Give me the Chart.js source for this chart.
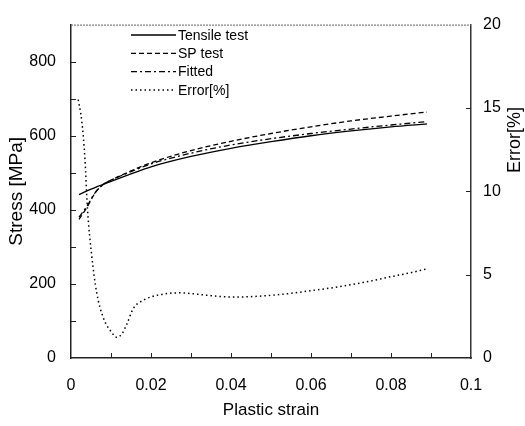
<!DOCTYPE html>
<html><head><meta charset="utf-8">
<script src="https://cdn.jsdelivr.net/npm/chart.js@4"></script>
<style>html,body{margin:0;padding:0;background:#fff}#wrap{width:525px;height:426px}</style>
</head><body><div id="wrap"><canvas id="c" width="525" height="426"></canvas></div>
<script>
const strain  = [0.002,0.004,0.006,0.008,0.01,0.015,0.02,0.03,0.04,0.05,0.06,0.07,0.08,0.089];
const tensile = [441,451,460,469,477,497,516,544,566,584,600,613,624,632];
const spTest  = [374,407,445,468,480,505,527,560,585,606,624,640,653,664];
const fitted  = [380,410,446,468,480,503,524,553,575,592,606,618,629,638];
const errStrain = [0.0018,0.0027,0.0035,0.0041,0.0052,0.0064,0.0081,0.0102,0.0114,0.0127,0.0139,0.0156,0.0181,0.0223,0.0273,0.0306,0.035,0.04,0.045,0.05,0.055,0.06,0.065,0.07,0.075,0.08,0.085,0.089];
const errVals   = [15.5,14.2,11.9,9.0,6.1,3.95,2.4,1.53,1.24,1.44,2.0,2.98,3.47,3.8,3.91,3.85,3.74,3.66,3.68,3.76,3.88,4.04,4.2,4.4,4.62,4.88,5.12,5.35];
const xTicks  = [0,0.02,0.04,0.06,0.08,0.1];
const yTicks  = [0,200,400,600,800];
const y2Ticks = [0,5,10,15,20];
const legendLabels = ['Tensile test','SP test','Fitted','Error[%]'];
const titles = {x:'Plastic strain', y:'Stress [MPa]', y2:'Error[%]'};

const pts = (xs, ys) => xs.map((x,i)=>({x:x,y:ys[i]}));
const FONT = 'Liberation Sans, Arial, sans-serif';

const deco = {
  id:'deco',
  afterDraw(chart){
    const ctx = chart.ctx, a = chart.chartArea;
    const x = chart.scales.x, y = chart.scales.y, y2 = chart.scales.y2;
    ctx.save();
    ctx.strokeStyle = '#222'; ctx.lineWidth = 1;
    ctx.beginPath();
    for (let v=0.01; v<0.0999; v+=0.01){ const px=Math.round(x.getPixelForValue(v))+0.5; ctx.moveTo(px,a.bottom); ctx.lineTo(px,a.bottom-5); }
    for (let v=100; v<900; v+=100){ const py=Math.round(y.getPixelForValue(v))+0.5; ctx.moveTo(a.left,py); ctx.lineTo(a.left+5,py); }
    for (let v=5; v<20; v+=5){ const py=Math.round(y2.getPixelForValue(v))+0.5; ctx.moveTo(a.right,py); ctx.lineTo(a.right-5,py); }
    ctx.stroke();
    ctx.strokeStyle = '#666'; ctx.setLineDash([2,1]);
    ctx.beginPath(); ctx.moveTo(a.left,a.top+0.5); ctx.lineTo(a.right,a.top+0.5); ctx.stroke();
    ctx.setLineDash([]);
    // right title, reading bottom-to-top
    ctx.save();
    ctx.translate(515, 140); ctx.rotate(-Math.PI/2);
    ctx.font = '18px ' + FONT; ctx.fillStyle = '#000'; ctx.textAlign = 'center'; ctx.textBaseline = 'middle';
    ctx.fillText(titles.y2, 0, 0);
    ctx.restore();
    // legend
    const ds = chart.data.datasets;
    ctx.font = '14px ' + FONT; ctx.fillStyle = '#000'; ctx.textBaseline = 'middle';
    const lx0 = 131, lx1 = 176, ly0 = 35, dy = 18.3;
    ds.forEach((d,i)=>{
      const yy = ly0 + i*dy;
      ctx.strokeStyle = '#000'; ctx.lineWidth = d.borderWidth; ctx.setLineDash(d.borderDash||[]);
      ctx.beginPath(); ctx.moveTo(lx0,yy); ctx.lineTo(lx1,yy); ctx.stroke();
      ctx.setLineDash([]);
      ctx.fillText(d.label, lx1+2, yy+1);
    });
    ctx.restore();
  }
};

new Chart(document.getElementById('c'), {
  type:'line',
  data:{datasets:[
    {label:legendLabels[0], data:pts(strain,tensile), yAxisID:'y', borderColor:'#000', borderWidth:1.3, pointRadius:0, fill:false, cubicInterpolationMode:'monotone'},
    {label:legendLabels[1], data:pts(strain,spTest), yAxisID:'y', borderColor:'#000', borderWidth:1.3, borderDash:[5,3], pointRadius:0, fill:false, cubicInterpolationMode:'monotone'},
    {label:legendLabels[2], data:pts(strain,fitted), yAxisID:'y', borderColor:'#000', borderWidth:1.3, borderDash:[6,3,2,3], pointRadius:0, fill:false, cubicInterpolationMode:'monotone'},
    {label:legendLabels[3], data:pts(errStrain,errVals), yAxisID:'y2', borderColor:'#000', borderWidth:1.5, borderDash:[1.5,3], pointRadius:0, fill:false, cubicInterpolationMode:'monotone'}
  ]},
  options:{
    responsive:false, animation:false, devicePixelRatio:1,
    layout:{padding:{top:14,left:0,right:0,bottom:0}},
    plugins:{legend:{display:false}, tooltip:{enabled:false}},
    scales:{
      x:{type:'linear', min:0, max:0.1,
         afterBuildTicks:(s)=>{ s.ticks = xTicks.map(v=>({value:v})); },
         afterFit:(s)=>{ s.height = 68; },
         grid:{display:false, drawTicks:false},
         border:{display:true, color:'#222', width:1.5},
         ticks:{color:'#000', padding:18, maxRotation:0, font:{family:FONT, size:16}, callback:(v)=>Number(v.toFixed(2)).toString()},
         title:{display:true, text:titles.x, color:'#000', font:{family:FONT, size:17}, padding:{top:2,bottom:5}}},
      y:{type:'linear', position:'left', min:0, max:900,
         afterBuildTicks:(s)=>{ s.ticks = yTicks.map(v=>({value:v})); },
         afterFit:(s)=>{ s.width = 71; },
         grid:{display:false, drawTicks:false},
         border:{display:true, color:'#222', width:1.5},
         ticks:{color:'#000', padding:15, font:{family:FONT, size:16}},
         title:{display:true, text:titles.y, color:'#000', font:{family:FONT, size:19}, padding:{top:5,bottom:0}}},
      y2:{type:'linear', position:'right', min:0, max:20,
         afterBuildTicks:(s)=>{ s.ticks = y2Ticks.map(v=>({value:v})); },
         afterFit:(s)=>{ s.width = 54; },
         grid:{display:false, drawTicks:false},
         border:{display:true, color:'#333', width:1.5},
         ticks:{color:'#000', padding:12, font:{family:FONT, size:16}},
         title:{display:false}}
    }
  },
  plugins:[deco]
});
</script></body></html>
